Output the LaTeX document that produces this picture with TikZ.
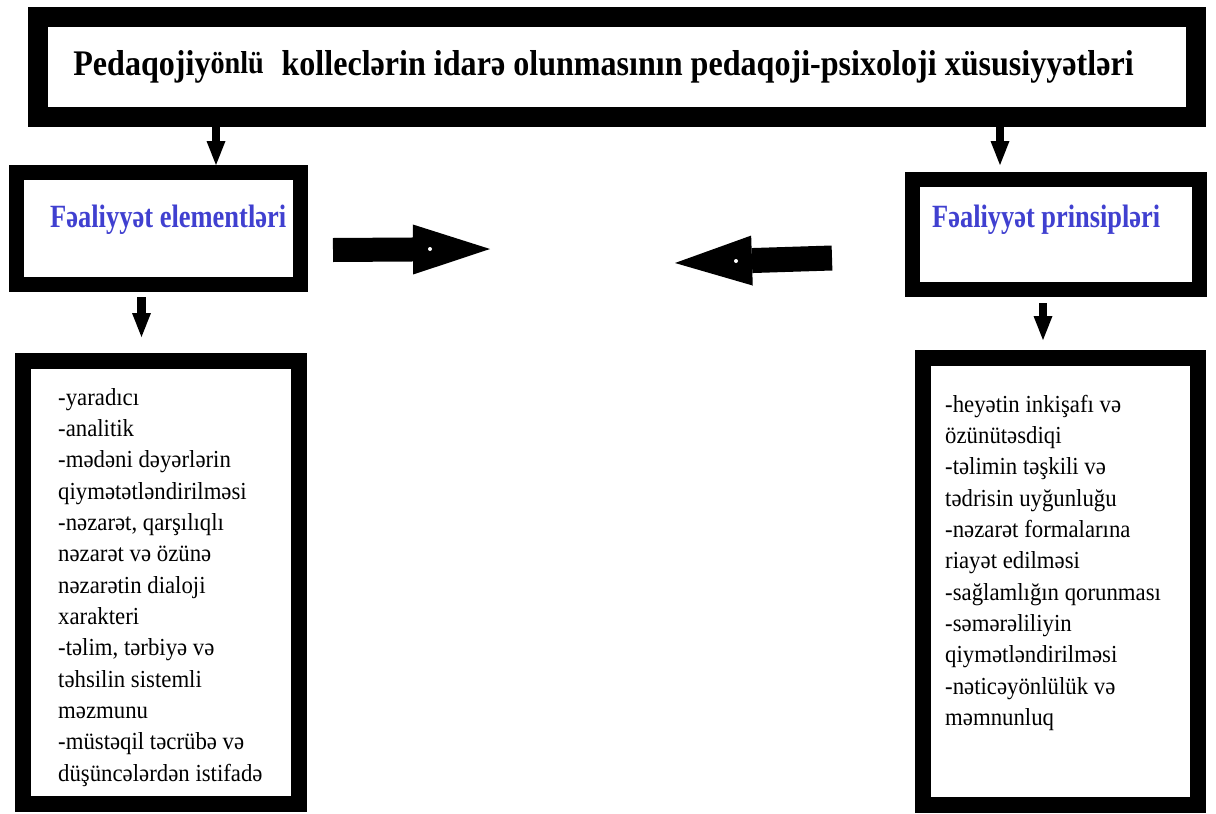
\documentclass[tikz,border=0pt]{standalone}
\usepackage{fontspec}
\setmainfont{Liberation Serif}
\newfontfamily\listfont[FakeStretch=0.93]{Liberation Serif}
\usetikzlibrary{arrows.meta}
\definecolor{lblue}{RGB}{64,64,208}
\begin{document}
\begin{tikzpicture}[x=1pt,y=-1pt,
  frame/.style={draw=black, fill=white, inner sep=0pt},
  darr/.style={line width=8.5pt, -{Triangle[width=19pt,length=24pt,line width=0pt]}},
  barr/.style={line width=24pt, -{Triangle[width=50pt,length=77pt,line width=0pt]}},
  lbl/.style={inner sep=0pt, text=lblue, anchor=base west},
  listtxt/.style={inner sep=0pt, anchor=base west, font=\listfont\fontsize{24.5}{31.35}\selectfont}]
\useasboundingbox (0,0) rectangle (1216,814);
\fill[white] (0,0) rectangle (1216,814);

% boxes
\node[frame, line width=20pt, minimum width=1158pt, minimum height=100pt] (top) at (617,67) {};
\node[frame, line width=15pt, minimum width=284pt, minimum height=112pt] (elem) at (158.5,228.5) {};
\node[frame, line width=15pt, minimum width=287pt, minimum height=110pt] (prin) at (1056,234.5) {};
\node[frame, line width=16pt, minimum width=276pt, minimum height=443pt] (elist) at (161,582.5) {};
\node[frame, line width=16pt, minimum width=275pt, minimum height=447pt] (plist) at (1060.5,581.5) {};

% texts
\node[inner sep=0pt, anchor=base] (title) at (603.5,75)
  {\resizebox{1060pt}{25pt}{\bfseries Pedaqojiy\raisebox{0.03em}{\scalebox{0.88}{önlü}}\hspace{0.55em}kolleclərin idarə olunmasının pedaqoji-psixoloji xüsusiyyətləri}};
\node[lbl] (elemtxt) at (50,227) {\resizebox{236pt}{22.5pt}{\bfseries Fəaliyyət elementləri}};
\node[lbl] (printxt) at (932,227) {\resizebox{228pt}{22.5pt}{\bfseries Fəaliyyət prinsipləri}};

\node[listtxt] (elisttxt) at (58,405) {\parbox[t]{245pt}{\raggedright
-yaradıcı\\
-analitik\\
-mədəni dəyərlərin\\
qiymətətləndirilməsi\\
-nəzarət, qarşılıqlı\\
nəzarət və özünə\\
nəzarətin dialoji\\
xarakteri\\
-təlim, tərbiyə və\\
təhsilin sistemli\\
məzmunu\\
-müstəqil təcrübə və\\
düşüncələrdən istifadə}};

\node[listtxt] (plisttxt) at (945,412) {\parbox[t]{240pt}{\raggedright
-heyətin inkişafı və\\
özünütəsdiqi\\
-təlimin təşkili və\\
tədrisin uyğunluğu\\
-nəzarət formalarına\\
riayət edilməsi\\
-sağlamlığın qorunması\\
-səmərəliliyin\\
qiymətləndirilməsi\\
-nəticəyönlülük və\\
məmnunluq}};

% down arrows
\coordinate (a1) at (216,0);
\coordinate (a2) at (1000,0);
\coordinate (a3) at (141.5,0);
\coordinate (a4) at (1043,0);
\draw[darr] (a1 |- top.south) -- (a1 |- elem.north);
\draw[darr, shorten >=7pt] (a2 |- top.south) -- (a2 |- prin.north);
\draw[darr, shorten <=5pt, shorten >=16pt] (a3 |- elem.south) -- (a3 |- elist.north);
\draw[darr, shorten <=6pt, shorten >=10pt] (a4 |- prin.south) -- (a4 |- plist.north);

% big horizontal arrows
\coordinate (b1s) at (333,250);
\coordinate (b1e) at (490,249);
\coordinate (b2s) at (832,258);
\coordinate (b2e) at (675,263);
\draw[barr] (b1s) -- (b1e);
\draw[barr, line width=25pt] (b2s) -- (b2e);
\fill[white] (430,249) circle (2pt);
\fill[white] (736,261) circle (2pt);
\end{tikzpicture}
\end{document}
